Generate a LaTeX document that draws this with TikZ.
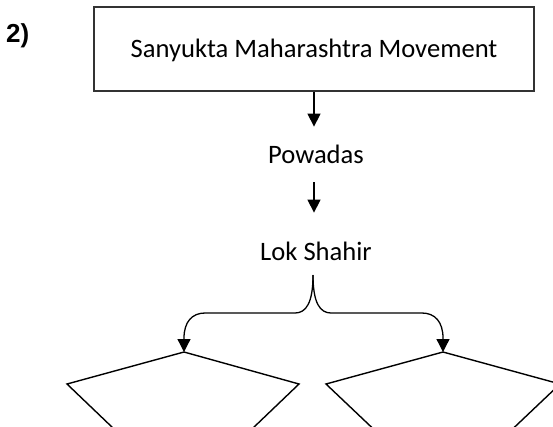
\documentclass[tikz,border=0pt]{standalone}
\usepackage{fontspec}
\setmainfont{Carlito}
\newfontfamily\labfont{Liberation Sans}
\usetikzlibrary{arrows.meta}
\tikzset{
  lbl/.style={font=\fontsize{26.6}{30}\selectfont, inner sep=0pt, text height=17pt, text depth=0pt},
  topbox/.style={lbl, draw=black!80, line width=1.3pt, minimum width=440pt, minimum height=84pt},
  arr/.style={-{Triangle[width=13pt,length=13pt]}, line width=1.3pt},
  kite/.style={line width=1.4pt, line join=miter},
  numlbl/.style={font=\labfont\bfseries\fontsize{26}{30}\selectfont, anchor=base west, inner sep=0pt}
}
\begin{document}
\begin{tikzpicture}[x=1pt,y=-1pt]
\useasboundingbox (0,0) rectangle (553,426);
\clip (0,0) rectangle (553,426);
\node[numlbl] (num) at (6,42) {2)};
\node[topbox] (smm) at (314,49) {Sanyukta Maharashtra Movement};
\node[lbl, anchor=south] (pow) at (316,164) {Powadas};
\node[lbl, anchor=south] (lok) at (316,261) {Lok Shahir};
\coordinate (bt) at (313,275);
\coordinate (d1) at (184,352);
\coordinate (d2) at (443,352);
\draw[arr, shorten >=20pt] (smm.south) -- (smm.south |- pow.north);
\draw[arr, shorten <=18pt, shorten >=31pt] (pow.south -| smm.south) -- (smm.south |- lok.north);
\draw[arr] (bt) .. controls (313,303) and (306,313) .. (295,313) -- (205,313)
  .. controls (192,313) and (184,322) .. (184,338) -- (d1);
\draw[arr] (bt) .. controls (313,303) and (320,313) .. (331,313) -- (422,313)
  .. controls (435,313) and (443,322) .. (443,338) -- (d2);
\draw[kite] (d1) -- (67,384) -- (183,495) -- (299,384) -- cycle;
\draw[kite] (d2) -- (326,384) -- (443,495) -- (560,384) -- cycle;
\end{tikzpicture}
\end{document}
